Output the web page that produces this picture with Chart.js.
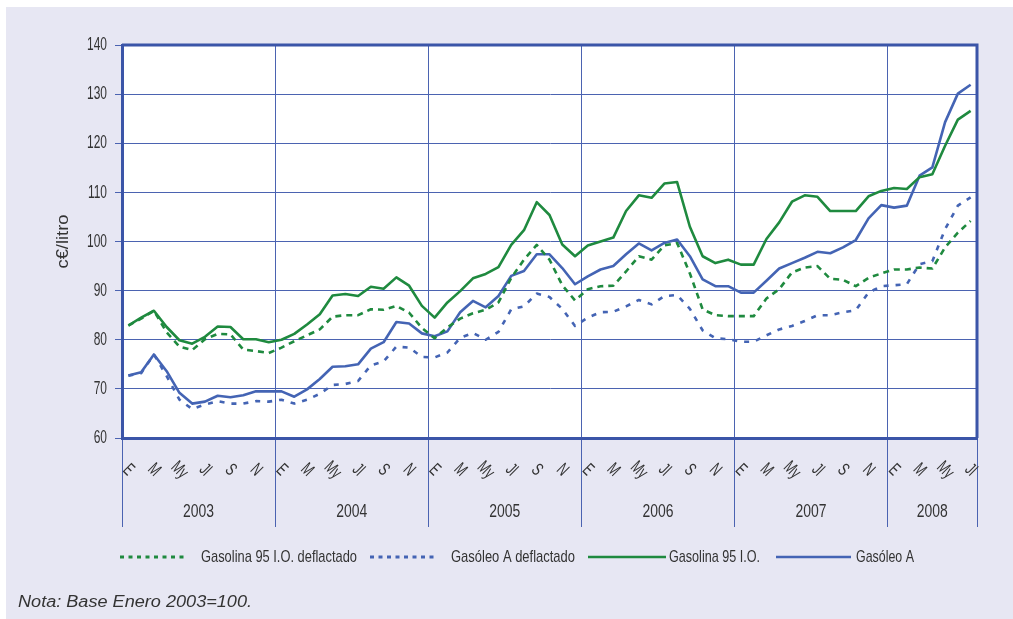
<!DOCTYPE html>
<html>
<head>
<meta charset="utf-8">
<title>Precios de carburantes</title>
<script src="https://cdn.jsdelivr.net/npm/chart.js@4.4.1/dist/chart.umd.min.js"></script>
<style>
  html, body { margin: 0; padding: 0; background: #ffffff; }
  #wrap { position: relative; width: 1013px; height: 619px; }
  canvas { display: block; }
</style>
</head>
<body>
<div id="wrap"><canvas id="chart" width="1013" height="619"></canvas></div>
<script>
// ---- Data (c€/litro, monthly, Jan 2003 - Jul 2008) ----
const years = ['2003', '2004', '2005', '2006', '2007', '2008'];
const monthsPerYear = [12, 12, 12, 12, 12, 7];
const monthTicks = ['E', 'M', 'My', 'Jl', 'S', 'N'];   // shown on every second month

const gasolinaDeflactado = [
  82.9, 84.3, 85.9, 81.5, 78.6, 77.9, 80.1, 81.2, 81.1, 78.0, 77.7, 77.3,
  78.4, 79.7, 80.9, 82.1, 84.7, 85.0, 85.0, 86.2, 86.1, 86.9, 85.5, 82.4,
  80.3, 82.5, 84.3, 85.4, 86.1, 87.6, 92.6, 96.3, 99.3, 96.3, 91.1, 88.0,
  90.3, 90.9, 91.0, 93.9, 97.0, 96.3, 99.2, 99.7, 93.5, 86.2, 85.0, 84.8,
  84.8, 84.8, 88.4, 90.3, 93.7, 94.7, 95.0, 92.4, 92.2, 90.9, 92.6, 93.5,
  94.3, 94.3, 94.7, 94.5, 98.8, 101.8, 104.2
];
const gasoleoDeflactado = [
  72.7, 73.2, 77.0, 72.6, 67.8, 65.9, 66.8, 67.5, 67.0, 67.0, 67.5, 67.4,
  67.8, 67.0, 67.8, 69.0, 70.8, 71.0, 71.6, 74.8, 75.6, 78.6, 78.4, 76.5,
  76.4, 77.4, 80.4, 81.4, 80.0, 81.6, 86.2, 86.8, 89.4, 88.7, 86.3, 82.8,
  84.5, 85.6, 85.7, 86.8, 88.1, 87.2, 88.9, 89.1, 86.3, 81.9, 80.3, 80.1,
  79.6, 79.6, 80.9, 82.1, 82.8, 83.8, 85.0, 85.0, 85.6, 86.0, 89.6, 90.9,
  91.1, 91.3, 95.4, 96.0, 102.5, 107.3, 109.0
];
const gasolina = [
  82.9, 84.5, 85.9, 82.6, 79.9, 79.2, 80.6, 82.7, 82.6, 80.1, 80.1, 79.5,
  80.0, 81.2, 83.1, 85.2, 89.0, 89.3, 88.9, 90.8, 90.4, 92.7, 91.0, 86.9,
  84.5, 87.6, 89.9, 92.5, 93.4, 94.8, 99.3, 102.3, 108.0, 105.4, 99.4, 97.0,
  99.2, 100.0, 100.8, 106.2, 109.4, 108.9, 111.8, 112.1, 103.0, 97.0, 95.6, 96.3,
  95.3, 95.3, 100.5, 103.9, 108.1, 109.4, 109.1, 106.2, 106.2, 106.2, 109.2, 110.3,
  110.9, 110.7, 113.1, 113.7, 119.5, 124.8, 126.6
];
const gasoleo = [
  72.7, 73.4, 77.0, 73.6, 69.2, 67.0, 67.4, 68.6, 68.3, 68.7, 69.5, 69.5,
  69.5, 68.4, 69.9, 72.0, 74.5, 74.6, 75.0, 78.2, 79.5, 83.6, 83.3, 81.3,
  80.7, 81.7, 85.6, 87.9, 86.6, 88.9, 93.0, 94.0, 97.4, 97.4, 94.6, 91.3,
  92.9, 94.3, 95.0, 97.4, 99.6, 98.2, 99.7, 100.4, 97.0, 92.3, 90.9, 90.9,
  89.6, 89.6, 92.0, 94.5, 95.6, 96.7, 97.9, 97.6, 98.8, 100.3, 104.7, 107.4,
  106.9, 107.3, 113.4, 115.1, 124.3, 130.1, 131.9
];

const yTicks = [60, 70, 80, 90, 100, 110, 120, 130, 140];
const yTitle = 'c€/litro';
const note = 'Nota: Base Enero 2003=100.';

// Month categories ("2003-1" ... "2008-7")
const categories = [];
years.forEach((yr, k) => {
  for (let m = 1; m <= monthsPerYear[k]; m++) categories.push(yr + '-' + m);
});

// ---- Styling ----
const GREEN = '#1f8a3f';
const BLUE = '#4464b4';
const FRAME = '#3b55a8';
const GRID = '#4b63b1';
const TEXT = '#333333';
const BG = '#e7e7f3';
const FONT = '"Liberation Sans", Arial, sans-serif';

function drawText(ctx, str, x, y, o) {
  ctx.save();
  ctx.font = (o.italic ? 'italic ' : '') + (o.bold ? 'bold ' : '') + o.size + 'px ' + FONT;
  const w = ctx.measureText(str).width;
  const sx = o.width ? o.width / w : (o.sx || 0.63);
  ctx.translate(x, y);
  if (o.rot) ctx.rotate(o.rot);
  ctx.scale(sx, 1);
  ctx.fillStyle = o.color || TEXT;
  ctx.textBaseline = 'middle';
  ctx.textAlign = o.align || 'left';
  ctx.fillText(str, 0, 0);
  ctx.restore();
}

// Page background, lavender panel and white plot area
const backdrop = {
  id: 'backdrop',
  beforeDraw(chart) {
    const { ctx, chartArea: a } = chart;
    ctx.save();
    ctx.fillStyle = '#ffffff';
    ctx.fillRect(0, 0, chart.width, chart.height);
    ctx.fillStyle = BG;
    ctx.fillRect(6, 7, chart.width - 6, chart.height - 7);
    ctx.fillStyle = '#ffffff';
    ctx.fillRect(a.left, a.top, a.right - a.left, a.bottom - a.top);
    ctx.restore();
  }
};

// Top and right edges of the plot frame
const frame = {
  id: 'frame',
  afterDraw(chart) {
    const { ctx, chartArea: a } = chart;
    ctx.save();
    ctx.strokeStyle = FRAME;
    ctx.lineWidth = 3;
    ctx.beginPath();
    ctx.moveTo(a.left, a.top);
    ctx.lineTo(a.right, a.top);
    ctx.lineTo(a.right, a.bottom);
    ctx.stroke();
    ctx.restore();
  }
};

// Axis texts, legend and note
const texts = {
  id: 'texts',
  afterDraw(chart) {
    const { ctx } = chart;
    const xs = chart.scales.x, ys = chart.scales.y;

    yTicks.forEach(v => {
      drawText(ctx, String(v), 107, ys.getPixelForValue(v), { size: 19, align: 'right', sx: 0.63 });
    });
    drawText(ctx, yTitle, 64, (ys.top + ys.bottom) / 2, { size: 16, align: 'center', width: 54, rot: -Math.PI / 2 });

    let idx = 0;
    years.forEach((yr, k) => {
      const first = idx, last = idx + monthsPerYear[k] - 1;
      for (let m = 0; m < monthsPerYear[k]; m += 2) {
        drawText(ctx, monthTicks[m / 2], xs.getPixelForValue(idx + m), 470,
          { size: 18, align: 'center', sx: 0.66, rot: Math.PI / 4 });
      }
      const cx = (xs.getPixelForValue(first) + xs.getPixelForValue(last)) / 2;
      drawText(ctx, yr, cx, 512, { size: 19, align: 'center', width: 31 });
      idx += monthsPerYear[k];
    });

    // Legend
    const items = [
      { ds: 0, x0: 120, x1: 188, tx: 201, tw: 156, dash: [4, 4.5], w: 3 },
      { ds: 1, x0: 370, x1: 438, tx: 451, tw: 124, dash: [4, 4.5], w: 3 },
      { ds: 2, x0: 588, x1: 666, tx: 669, tw: 91, dash: [], w: 2.5 },
      { ds: 3, x0: 776, x1: 851, tx: 856, tw: 58, dash: [], w: 2.5 }
    ];
    const ly = 557;
    items.forEach(it => {
      const ds = chart.data.datasets[it.ds];
      ctx.save();
      ctx.strokeStyle = ds.borderColor;
      ctx.lineWidth = it.w;
      ctx.setLineDash(it.dash);
      ctx.beginPath();
      ctx.moveTo(it.x0, ly);
      ctx.lineTo(it.x1, ly);
      ctx.stroke();
      ctx.restore();
      drawText(ctx, ds.label, it.tx, ly, { size: 17, width: it.tw });
    });

    drawText(ctx, note, 18, 603, { size: 16, italic: true, width: 234 });
  }
};

const lineStyle = { borderWidth: 2.6, pointRadius: 0, tension: 0, fill: false, borderCapStyle: 'butt', borderJoinStyle: 'round' };

new Chart(document.getElementById('chart').getContext('2d'), {
  type: 'line',
  data: {
    labels: categories,
    datasets: [
      Object.assign({ label: 'Gasolina 95 I.O. deflactado', data: gasolinaDeflactado, borderColor: GREEN, borderDash: [6, 5] }, lineStyle),
      Object.assign({ label: 'Gasóleo A deflactado', data: gasoleoDeflactado, borderColor: BLUE, borderDash: [5, 7] }, lineStyle),
      Object.assign({ label: 'Gasolina 95 I.O.', data: gasolina, borderColor: GREEN }, lineStyle),
      Object.assign({ label: 'Gasóleo A', data: gasoleo, borderColor: BLUE }, lineStyle)
    ]
  },
  options: {
    responsive: false,
    animation: false,
    events: [],
    layout: { padding: { top: 45, right: 36, left: 0, bottom: 0 } },
    plugins: { legend: { display: false }, tooltip: { enabled: false }, title: { display: false } },
    scales: {
      x: {
        type: 'category',
        offset: true,
        ticks: { display: false, autoSkip: false },
        grid: {
          offset: true,
          drawTicks: true,
          tickLength: 89,
          lineWidth: 1,
          color: c => (c.index === undefined || c.index % 12 === 0) ? GRID : 'rgba(0,0,0,0)'
        },
        border: { display: true, color: FRAME, width: 3 },
        afterFit: s => { s.height = 181; }
      },
      y: {
        min: 60,
        max: 140,
        ticks: { display: false, stepSize: 10 },
        grid: { color: GRID, lineWidth: 1, tickLength: 7, drawTicks: true },
        border: { display: true, color: FRAME, width: 3 },
        afterFit: s => { s.width = 122; }
      }
    }
  },
  plugins: [backdrop, frame, texts]
});
</script>
</body>
</html>
